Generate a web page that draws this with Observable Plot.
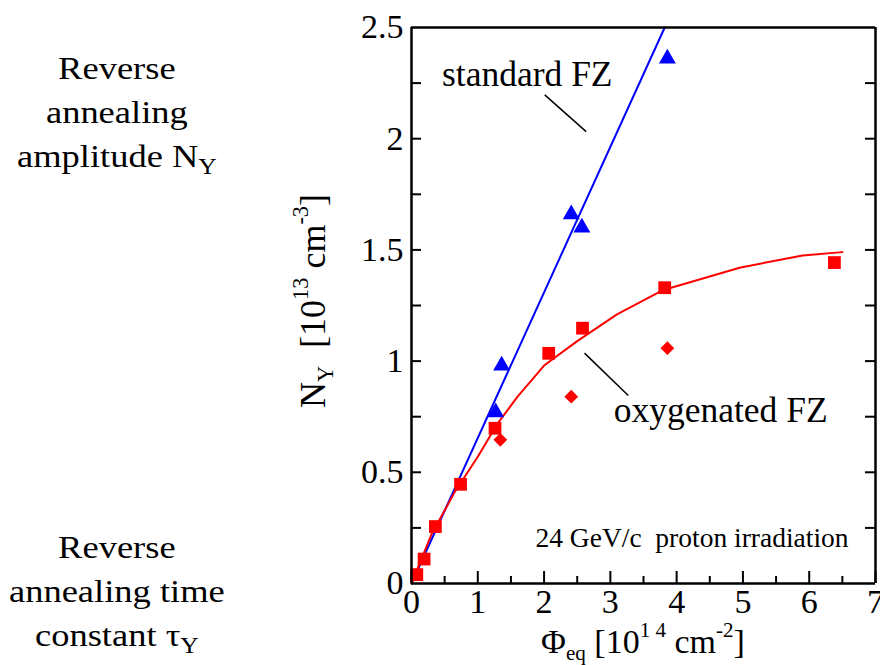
<!DOCTYPE html>
<html><head><meta charset="utf-8">
<script src="https://cdn.jsdelivr.net/npm/d3@7"></script>
<script src="https://cdn.jsdelivr.net/npm/@observablehq/plot@0.6"></script>
<style>
body{margin:0;background:#fff;}
#wrap{position:relative;width:880px;height:665px;font-family:"Liberation Serif","Times New Roman",serif;color:#000;overflow:hidden;}
#chart{position:absolute;left:0;top:0;width:880px;height:665px;}
#chart svg{display:block;}
.side{position:absolute;left:0;width:234px;text-align:center;font-size:32px;line-height:44px;transform:scaleX(1.14);transform-origin:118px 0;white-space:nowrap;}
.side .sb{font-size:0.7em;position:relative;top:0.32em;}
.ttl{position:absolute;font-size:34px;line-height:34px;white-space:nowrap;text-align:center;}
.ttl sub,.ttl sup{font-size:0.62em;position:relative;vertical-align:baseline;}
.ttl sub{top:0.35em;}
.ttl sup{top:-0.75em;}
#yt{font-size:36px;}
</style>
</head><body>
<div id="wrap">
<div id="chart"></div>
<div class="side" style="top:46px">Reverse<br>annealing<br>amplitude N<span class="sb">Y</span></div>
<div class="side" style="top:525px">Reverse<br>annealing time<br>constant τ<span class="sb">Y</span></div>
<div class="ttl" id="xt" style="left:443px;width:400px;top:625px;">Φ<sub>eq</sub> [10<sup>1 4</sup> cm<sup>-2</sup>]</div>
<div class="ttl" id="yt" style="left:315px;top:301px;width:300px;transform:translate(-50%,-50%) rotate(-90deg);">N<sub>Y</sub>&nbsp; [10<sup>13</sup> cm<sup>-3</sup>]</div>
</div>
<script>
// standard FZ (blue triangles)
const stdPhi = [1.27, 1.36, 2.41, 2.57, 3.86];
const stdNy  = [0.77, 0.98, 1.66, 1.60, 2.36];
// oxygenated FZ (red squares)
const oxyPhi = [0.08, 0.19, 0.36, 0.74, 1.26, 2.07, 2.58, 3.82, 6.38];
const oxyNy  = [0.04, 0.11, 0.256, 0.446, 0.698, 1.035, 1.148, 1.33, 1.443];
// oxygenated FZ (red diamonds)
const oxy2Phi = [1.34, 2.41, 3.86];
const oxy2Ny  = [0.646, 0.84, 1.058];
// fit lines
const stdFitPhi = [0, 3.82];
const stdFitNy  = [0, 2.5];
const oxyFitPhi = [0, 0.3, 0.65, 1.0, 1.3, 1.6, 2.0, 2.5, 3.1, 3.8, 4.95, 5.9, 6.5];
const oxyFitNy  = [0, 0.22, 0.41, 0.57, 0.72, 0.84, 0.98, 1.09, 1.21, 1.32, 1.42, 1.475, 1.49];
// annotations
const annoText = ["standard FZ", "oxygenated FZ"];
const annoPhi  = [0.46, 3.05];
const annoNy   = [2.239, 0.725];
const noteText = ["24 GeV/c\u00a0\u00a0proton irradiation"];
const notePhi  = [1.87];
const noteNy   = [0.163];
const leadPhi1 = [2.01, 2.61];
const leadNy1  = [2.197, 1.036];
const leadPhi2 = [2.635, 3.27];
const leadNy2  = [2.032, 0.845];
// ticks
const xTickLabels = [0, 1, 2, 3, 4, 5, 6, 7];
const xMinorTicks = [0.5, 1.5, 2.5, 3.5, 4.5, 5.5, 6.5];
const yTickLabels = [0, 0.5, 1, 1.5, 2, 2.5];
const yAllTicks = [0.25, 0.5, 0.75, 1, 1.25, 1.5, 1.75, 2, 2.25];
const xEdges = [0, 7];
const yEdges = [0, 2.5];

const W = 880, H = 665, mL = 411, mR = 5, mT = 27, mB = 82;
const fw = W - mL - mR, fh = H - mT - mB;

const std = stdPhi.map((x, i) => ({x, y: stdNy[i]}));
const oxy = oxyPhi.map((x, i) => ({x, y: oxyNy[i]}));
const oxy2 = oxy2Phi.map((x, i) => ({x, y: oxy2Ny[i]}));
const stdFit = stdFitPhi.map((x, i) => ({x, y: stdFitNy[i]}));
const oxyFit = oxyFitPhi.map((x, i) => ({x, y: oxyFitNy[i]}));
const anno = annoText.map((t, i) => ({t, x: annoPhi[i], y: annoNy[i]}));
const note = noteText.map((t, i) => ({t, x: notePhi[i], y: noteNy[i]}));
const leads = leadPhi1.map((x1, i) => ({x1, y1: leadNy1[i], x2: leadPhi2[i], y2: leadNy2[i]}));

const plot = Plot.plot({
  width: W, height: H,
  marginLeft: mL, marginRight: mR, marginTop: mT, marginBottom: mB,
  x: {domain: [0, 7]},
  y: {domain: [0, 2.5]},
  style: {fontFamily: "Liberation Serif, Times New Roman, serif", fontSize: "33px", color: "#000", background: "transparent", overflow: "visible"},
  marks: [
    Plot.axisX(xTickLabels, {tickSize: 0, tickPadding: 5, label: null, fontSize: 34}),
    Plot.axisY(yTickLabels, {tickSize: 0, tickPadding: 8, label: null, fontSize: 34, tickFormat: d => String(d)}),
    Plot.tickX(xMinorTicks, {x: d => d, insetTop: fh - 7, strokeWidth: 2, stroke: "#000"}),
    Plot.tickX(xTickLabels, {x: d => d, insetTop: fh - 12, strokeWidth: 2, stroke: "#000"}),
    Plot.tickY(yAllTicks, {y: d => d, insetRight: fw - 10, strokeWidth: 2, stroke: "#000"}),
    Plot.tickY(yAllTicks, {y: d => d, insetLeft: fw - 10, strokeWidth: 2, stroke: "#000"}),
    Plot.line(stdFit, {x: "x", y: "y", stroke: "#0000ff", strokeWidth: 2}),
    Plot.line(oxyFit, {x: "x", y: "y", stroke: "#ff0000", strokeWidth: 2, curve: "linear"}),
    Plot.dot(oxy, {x: "x", y: "y", symbol: "square", r: 7.2, fill: "#ff0000", stroke: "none"}),
    Plot.dot(oxy2, {x: "x", y: "y", symbol: "diamond2", r: 6.2, fill: "#ff0000", stroke: "none"}),
    Plot.dot(std, {x: "x", y: "y", symbol: "triangle", r: 6.3, fill: "#0000ff", stroke: "none"}),
    Plot.link(leads, {x1: "x1", y1: "y1", x2: "x2", y2: "y2", stroke: "#000", strokeWidth: 1.5}),
    Plot.text(anno, {x: "x", y: "y", text: "t", textAnchor: "start", lineAnchor: "bottom", fontSize: 35.5, fill: "#000"}),
    Plot.text(note, {x: "x", y: "y", text: "t", textAnchor: "start", lineAnchor: "bottom", fontSize: 27.5, fill: "#000"}),
    Plot.ruleX(xEdges, {x: d => d, stroke: "#000", strokeWidth: 2.5}),
    Plot.ruleY(yEdges, {y: d => d, stroke: "#000", strokeWidth: 2.5})
  ]
});
document.getElementById("chart").appendChild(plot);
</script>
</body></html>
